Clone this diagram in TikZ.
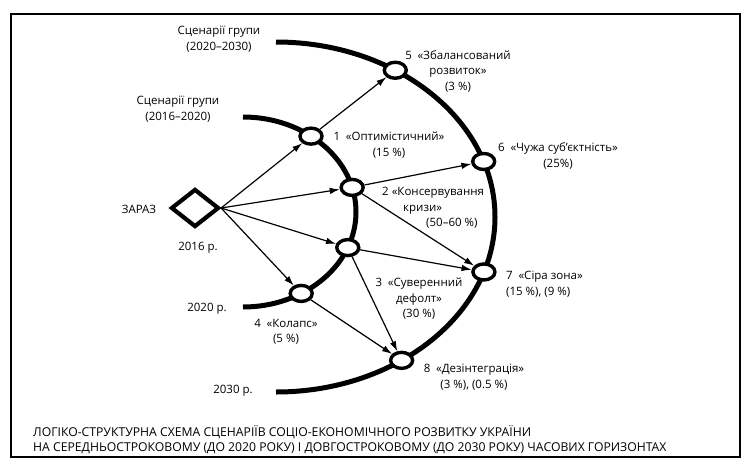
\documentclass[tikz,border=0pt]{standalone}
\usepackage{fontspec}
\setmainfont{Open Sans}
\usetikzlibrary{positioning, arrows.meta, shapes, calc}

\begin{document}
\begin{tikzpicture}[x=1pt, y=-1pt,
	scen/.style={ellipse, draw, line width=3.4pt, fill=white, minimum width=22pt, minimum height=16pt, inner sep=0pt},
	horizon/.style={line width=5pt},
	link/.style={line width=1.2pt, -{Latex[length=10pt, width=6.5pt]}},
	lbl/.style={font=\fontsize{11.5}{15.5}\selectfont, align=center, inner sep=0pt},
	caption/.style={font=\fontsize{12.2}{15.5}\selectfont, align=left, inner sep=0pt}]
		
		\useasboundingbox (0,0) rectangle (750,467);
		
		%Frame
		\draw[line width=1.2pt] (11,14) rectangle (740,457);
		
		%Horizons
		\coordinate (ci) at (243,212);
		\coordinate (co) at (276,217);
		\draw[horizon] ([shift={(-90:113 and 95)}]ci) arc (-90:90:113 and 95);
		\draw[horizon] ([shift={(-90:219 and 175)}]co) arc (-90:90:219 and 175);
		
		%Scenarios
		\node[diamond, draw, line width=4.2pt, minimum width=48pt, minimum height=38pt, inner sep=0pt, aspect=1.25] (zz) at (195,208){};
		\node[scen] (n1) at ([shift={(-53:113 and 95)}]ci){};
		\node[scen] (n2) at ([shift={(-15:113 and 95)}]ci){};
		\node[scen] (n3) at ([shift={(22:113 and 95)}]ci){};
		\node[scen] (n4) at ([shift={(59:113 and 95)}]ci){};
		\node[scen] (n5) at ([shift={(-57:219 and 175)}]co){};
		\node[scen] (n6) at ([shift={(-18.5:219 and 175)}]co){};
		\node[scen] (n7) at ([shift={(18.3:219 and 175)}]co){};
		\node[scen] (n8) at ([shift={(55:219 and 175)}]co){};
		
		%Links
		\draw[link] (zz.east) -- (n1);
		\draw[link] (zz.east) -- (n2);
		\draw[link] (zz.east) -- (n3);
		\draw[link] (zz.east) -- (n4);
		\draw[link] (n1) -- (n5);
		\draw[link] (n2) -- (n6);
		\draw[link] (n2) -- (n7);
		\draw[link] (n3) -- (n7);
		\draw[link] (n3) -- (n8);
		\draw[link] (n4) -- (n8);
		
		%Labels
		\node[lbl] (g2) at (219,39){Сценарії групи\\(2020–2030)};
		\node[lbl] (g1) at (178,109){Сценарії групи\\(2016–2020)};
		\node[lbl] (now) at (139,209){ЗАРАЗ};
		\node[lbl] (y16) at (198,248){2016 р.};
		\node[lbl] (y20) at (207,309){2020 р.};
		\node[lbl] (y30) at (233,391){2030 р.};
		\node[lbl] (l1) at (389,145){1\enspace«Оптимістичний»\\(15 \%)};
		\node[lbl] (l5) at (458,71){5\enspace«Збалансований\\розвиток»\\(3 \%)};
		\node[lbl] (l6) at (558,156){6\enspace«Чужа суб’єктність»\\(25\%)};
		\node[lbl, align=left, anchor=west] (l2) at (382,208){2 «Консервування\\\hspace*{21pt}кризи»\\\hspace*{44pt}(50–60 \%)};
		\node[lbl] (l3) at (419,299){3\enspace«Суверенний\\дефолт»\\(30 \%)};
		\node[lbl, align=left, anchor=west] (l7) at (506,284){7\enspace«Сіра зона»\\(15 \%), (9 \%)};
		\node[lbl] (l4) at (286,332){4\enspace«Колапс»\\(5 \%)};
		\node[lbl] (l8) at (474,377){8\enspace«Дезінтеграція»\\(3 \%), (0.5 \%)};
		
		%Caption
		\node[caption, anchor=north west] (cap) at (33,425){ЛОГІКО-СТРУКТУРНА СХЕМА СЦЕНАРІЇВ СОЦІО-ЕКОНОМІЧНОГО РОЗВИТКУ УКРАЇНИ\\НА СЕРЕДНЬОСТРОКОВОМУ (ДО 2020 РОКУ) І ДОВГОСТРОКОВОМУ (ДО 2030 РОКУ) ЧАСОВИХ ГОРИЗОНТАХ};
		
\end{tikzpicture}
\end{document}
